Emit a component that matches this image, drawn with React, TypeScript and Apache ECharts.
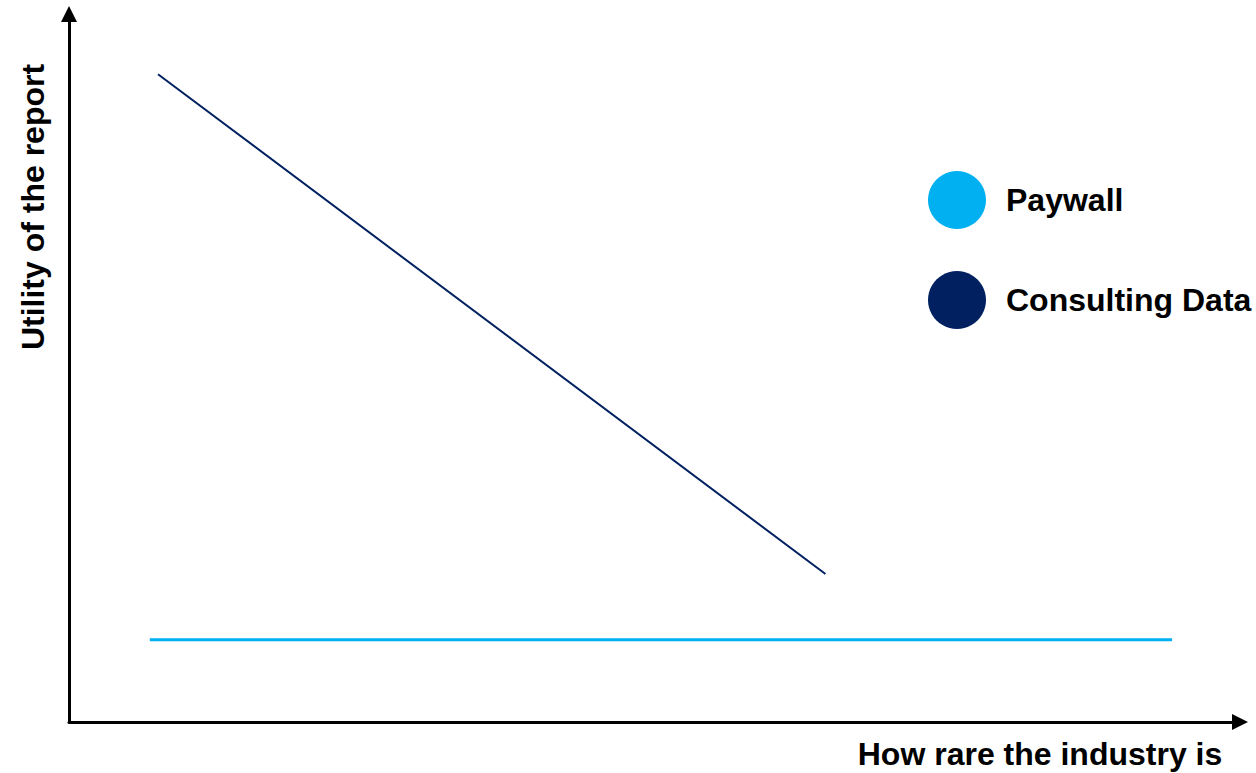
import React, { useEffect, useRef } from "react";
import * as echarts from "echarts";

const seriesNames = ["Paywall", "Consulting Data"];
const seriesColors = ["#00B0F0", "#002060"];
const paywallPoints: [number, number][] = [
  [6.9, 11.6],
  [94.2, 11.6],
];
const consultingPoints: [number, number][] = [
  [7.6, 91.5],
  [64.6, 20.9],
];
const xTitle = "How rare the industry is";
const yTitle = "Utility of the report";

const FONT = "'Liberation Sans', Arial, sans-serif";

export default function App() {
  const ref = useRef<HTMLDivElement>(null);
  useEffect(() => {
    document.body.style.margin = "0";
    if (!ref.current) return;
    const chart = echarts.init(ref.current, undefined, { renderer: "svg" });
    const axisCommon = {
      type: "value" as const,
      min: 0,
      max: 100,
      splitLine: { show: false },
      axisTick: { show: false },
      axisLabel: { show: false },
      axisLine: {
        show: true,
        symbol: ["none", "triangle"],
        symbolSize: [16, 16],
        lineStyle: { color: "#000", width: 3 },
      },
    };
    chart.setOption({
      animation: false,
      backgroundColor: "#fff",
      grid: { left: 69, right: 16, top: 14, bottom: 51, containLabel: false },
      xAxis: { ...axisCommon },
      yAxis: { ...axisCommon },
      legend: {
        orient: "vertical",
        left: 923,
        top: 166,
        itemWidth: 64,
        itemHeight: 58,
        itemGap: 42,
        icon: "circle",
        data: seriesNames,
        textStyle: {
          fontFamily: FONT,
          fontSize: 32,
          fontWeight: "bold",
          color: "#000",
          padding: [0, 0, 0, 12],
        },
      },
      series: [
        {
          name: seriesNames[0],
          type: "line",
          data: paywallPoints,
          showSymbol: false,
          color: seriesColors[0],
          lineStyle: { color: seriesColors[0], width: 3 },
        },
        {
          name: seriesNames[1],
          type: "line",
          data: consultingPoints,
          showSymbol: false,
          color: seriesColors[1],
          lineStyle: { color: seriesColors[1], width: 2 },
        },
      ],
      graphic: [
        {
          type: "text",
          x: 1040,
          y: 754,
          style: {
            text: xTitle,
            fontFamily: FONT,
            fontSize: 32,
            fontWeight: "bold",
            fill: "#000",
            align: "center",
            verticalAlign: "middle",
          },
        },
        {
          type: "text",
          x: 33,
          y: 207,
          rotation: Math.PI / 2,
          style: {
            text: yTitle,
            fontFamily: FONT,
            fontSize: 32,
            fontWeight: "bold",
            fill: "#000",
            align: "center",
            verticalAlign: "middle",
          },
        },
      ],
    });
    return () => chart.dispose();
  }, []);
  return (
    <div
      ref={ref}
      style={{ position: "absolute", left: 0, top: 0, width: 1256, height: 773 }}
    />
  );
}
